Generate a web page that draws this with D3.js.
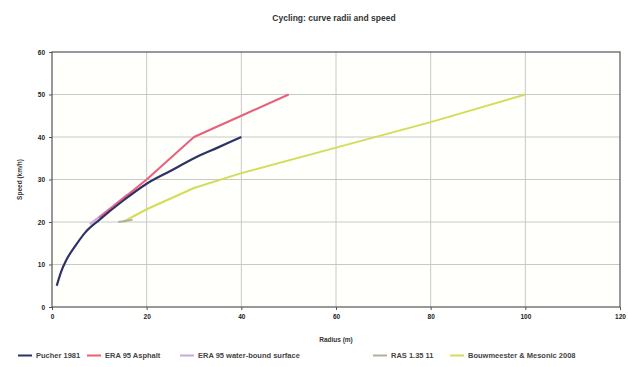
<!DOCTYPE html>
<html>
<head>
<meta charset="utf-8">
<script src="https://cdn.jsdelivr.net/npm/d3@7"></script>
<style>
  body { margin: 0; background: #fff; }
  svg { font-family: "Liberation Sans", Arial, sans-serif; }
  .grid line { stroke: #c8c8c8; stroke-width: 1; }
  .axis path, .axis line { stroke: #555; }
  .axis text { font-size: 6.5px; fill: #222; font-weight: bold; }
</style>
</head>
<body>
<svg id="chart" width="628" height="367"></svg>
<script>
// series names (legend order)
var names = ["Pucher 1981", "ERA 95 Asphalt", "ERA 95 water-bound surface", "RAS 1.35 11", "Bouwmeester & Mesonic 2008"];
var colors = ["#2f3266", "#e8607a", "#c8a8dc", "#b0b0a0", "#d4dc5a"];

// radius (m) / speed (km/h)
var pucherR = [1, 2, 3, 5, 7, 10, 15, 20, 25, 30, 35, 40];
var pucherV = [5, 8.5, 11, 14.5, 17.5, 20.5, 25, 29, 32, 35, 37.5, 40];
var asphaltR = [10, 15, 20, 30, 40, 50];
var asphaltV = [21, 25.5, 30, 40, 45, 50];
var unboundR = [8, 12, 16];
var unboundV = [19.5, 23, 26.5];
var rasR = [14, 17];
var rasV = [20, 20.5];
var bouwR = [15, 20, 30, 40, 60, 80, 100];
var bouwV = [20, 23, 28, 31.5, 37.5, 43.5, 50];

var xTicks = [0, 20, 40, 60, 80, 100, 120];
var yTicks = [0, 10, 20, 30, 40, 50, 60];

var series = [
  {name: names[0], r: pucherR, v: pucherV, color: colors[0]},
  {name: names[1], r: asphaltR, v: asphaltV, color: colors[1]},
  {name: names[2], r: unboundR, v: unboundV, color: colors[2]},
  {name: names[3], r: rasR, v: rasV, color: colors[3]},
  {name: names[4], r: bouwR, v: bouwV, color: colors[4]}
];

var margin = {top: 52, right: 8, bottom: 60, left: 52},
    width = 628 - margin.left - margin.right,
    height = 367 - margin.top - margin.bottom;

var svg = d3.select("#chart"),
    g = svg.append("g").attr("transform", "translate(" + margin.left + "," + margin.top + ")");

var x = d3.scaleLinear().domain([0, 120]).range([0, width]);
var y = d3.scaleLinear().domain([0, 60]).range([height, 0]);

g.append("rect")
  .attr("width", width).attr("height", height)
  .attr("fill", "#fffffb");

// grid
g.append("g").attr("class", "grid")
  .selectAll("line").data(xTicks.slice(1, -1)).enter().append("line")
  .attr("x1", d => x(d)).attr("x2", d => x(d))
  .attr("y1", 0).attr("y2", height);
g.append("g").attr("class", "grid")
  .selectAll("line").data(yTicks.slice(1, -1)).enter().append("line")
  .attr("y1", d => y(d)).attr("y2", d => y(d))
  .attr("x1", 0).attr("x2", width);

// lines
var line = d3.line()
  .curve(d3.curveMonotoneX)
  .x(function(d) { return x(d[0]); })
  .y(function(d) { return y(d[1]); });
var straight = d3.line()
  .x(function(d) { return x(d[0]); })
  .y(function(d) { return y(d[1]); });

var drawOrder = [4, 3, 2, 1, 0];
drawOrder.forEach(function(i) {
  var s = series[i];
  g.append("path")
    .datum(d3.zip(s.r, s.v))
    .attr("fill", "none")
    .attr("stroke", s.color)
    .attr("stroke-width", i == 0 ? 2.2 : 2)
    .attr("stroke-linejoin", "round")
    .attr("d", i == 0 ? line : straight);
});

// frame + axes
g.append("rect")
  .attr("width", width).attr("height", height)
  .attr("fill", "none").attr("stroke", "#555").attr("stroke-width", 1.2);

g.append("g").attr("class", "axis")
  .attr("transform", "translate(0," + height + ")")
  .call(d3.axisBottom(x).tickValues(xTicks).tickSize(3).tickPadding(4));
g.append("g").attr("class", "axis")
  .call(d3.axisLeft(y).tickValues(yTicks).tickSize(3).tickPadding(4));
g.selectAll(".axis .domain").remove();

// texts
svg.append("text")
  .attr("x", 334).attr("y", 21)
  .attr("text-anchor", "middle")
  .style("font-size", "8.5px").style("font-weight", "bold").style("fill", "#333")
  .text("Cycling: curve radii and speed");

svg.append("text")
  .attr("x", margin.left + width / 2).attr("y", 342)
  .attr("text-anchor", "middle")
  .style("font-size", "6.5px").style("font-weight", "bold").style("fill", "#333")
  .text("Radius (m)");

svg.append("text")
  .attr("transform", "translate(22," + (margin.top + height / 2) + ") rotate(-90)")
  .attr("text-anchor", "middle")
  .style("font-size", "6.5px").style("font-weight", "bold").style("fill", "#333")
  .text("Speed (km/h)");

// legend, spread across the bottom like the original
var legendX = [18, 87, 180, 373, 450], ly = 358;
var legend = svg.append("g");
series.forEach(function(s, i) {
  var lx = legendX[i];
  legend.append("line")
    .attr("x1", lx).attr("x2", lx + 14)
    .attr("y1", ly - 2.5).attr("y2", ly - 2.5)
    .attr("stroke", s.color).attr("stroke-width", 2);
  legend.append("text")
    .attr("x", lx + 18).attr("y", ly)
    .style("font-size", "7.5px").style("font-weight", "bold").style("fill", "#444")
    .text(s.name);
});
</script>
</body>
</html>
